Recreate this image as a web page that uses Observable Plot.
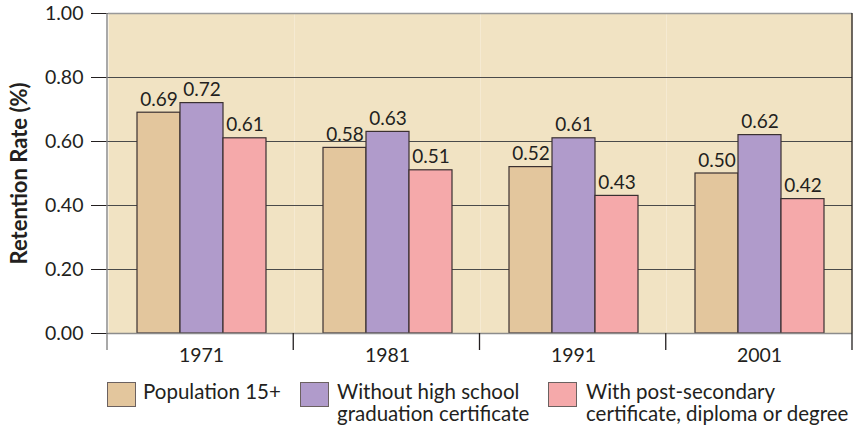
<!DOCTYPE html>
<html>
<head>
<meta charset="utf-8">
<script src="https://cdn.jsdelivr.net/npm/d3@7"></script>
<script src="https://cdn.jsdelivr.net/npm/@observablehq/plot@0.6"></script>
<style>
  body { margin: 0; background: #fff; font-family: Lato, "Open Sans", sans-serif; color: #231f20; }
  #wrap { position: relative; width: 856px; height: 433px; }
  #legend { position: absolute; left: 0; top: 0; width: 856px; height: 433px; pointer-events: none; }
  .sw { position: absolute; width: 29px; height: 25px; border: 1.3px solid #6b6160; box-sizing: border-box; }
  .lab { position: absolute; font-size: 20.5px; line-height: 22px; white-space: nowrap; color: #231f20; }
</style>
</head>
<body>
<div id="wrap"><div id="chart"></div><div id="legend"></div></div>
<script>
// Census years and the three population groups
const years = ["1971", "1981", "1991", "2001"];
const series = ["Population 15+", "Without high school graduation certificate", "With post-secondary certificate, diploma or degree"];
const legendLines = [["Population 15+"], ["Without high school", "graduation certificate"], ["With post-secondary", "certificate, diploma or degree"]];
const colors = ["#e3c69d", "#b09bcb", "#f5a9aa"];

// Retention rate per group, one value per census year
const population15 = [0.69, 0.58, 0.52, 0.50];
const withoutHighSchool = [0.72, 0.63, 0.61, 0.62];
const withPostSecondary = [0.61, 0.51, 0.43, 0.42];

const yTicks = [0, 0.2, 0.4, 0.6, 0.8, 1.0];
const yTitle = "Retention Rate (%)";

const rows = [];
[population15, withoutHighSchool, withPostSecondary].forEach((vals, s) => {
  vals.forEach((v, i) => rows.push({year: years[i], series: series[s], value: v}));
});

const plot = Plot.plot({
  width: 856,
  height: 365,
  marginTop: 13,
  marginBottom: 32,
  marginLeft: 107,
  marginRight: 4,
  style: {fontFamily: "Lato, 'Open Sans', sans-serif", fontSize: "19.5px", color: "#231f20", background: "transparent"},
  facet: {data: rows, x: "year"},
  fx: {domain: years, padding: 0, axis: "bottom", label: null, tickSize: 0, tickPadding: 15},
  x: {domain: series, paddingInner: 0, paddingOuter: 0.64, axis: null},
  y: {domain: [0, 1], ticks: yTicks, tickFormat: ".2f", tickSize: 17, tickPadding: 8,
      label: yTitle, labelAnchor: "center", labelOffset: 97},
  color: {domain: series, range: colors},
  marks: [
    Plot.frame({fill: "#f1e3c3", stroke: "none"}),
    Plot.ruleY([0.2, 0.4, 0.6, 0.8], {stroke: "#4a4a4a", strokeWidth: 1}),
    Plot.ruleY([1], {stroke: "#999", strokeWidth: 1.5}),
    Plot.barY(rows, {x: "series", y: "value", fill: "series", stroke: "#3a3031", strokeWidth: 1.2}),
    Plot.ruleY([0], {stroke: "#8c8c8c", strokeWidth: 1.5}),
    Plot.text(rows, {x: "series", y: "value", text: d => d.value.toFixed(2), lineAnchor: "bottom", dy: -7,
      fill: "#231f20", fontSize: 19})
  ]
});

// Group boundary ticks and the frame's side edges, placed with the fx scale
const fxs = plot.scale("fx");
const band = d3.scaleBand(fxs.domain, fxs.range)
  .paddingInner(fxs.paddingInner ?? 0).paddingOuter(fxs.paddingOuter ?? 0).align(fxs.align ?? 0.5);
const ys = plot.scale("y");
const yScale = d3.scaleLinear(ys.domain, ys.range);
const yTop = yScale(1), yBottom = yScale(0);
const svg = d3.select(plot.tagName.toLowerCase() === "svg" ? plot : plot.querySelector("svg"));
const edges = years.map(y => band(y)).concat([band(years[years.length - 1]) + band.bandwidth()]);
const g = svg.append("g").attr("aria-label", "group boundaries");
edges.forEach((x, i) => {
  const last = i === edges.length - 1;
  g.append("line")
    .attr("x1", x).attr("x2", x)
    .attr("y1", i === 0 || last ? yTop : yBottom)
    .attr("y2", yBottom + 17)
    .attr("stroke", i === 0 ? "#8c8c8c" : "#231f20")
    .attr("stroke-width", i === 0 ? 1.5 : 1.3);
});

// Bold axis title, without the direction arrow
svg.selectAll("text").filter(function() { return this.textContent.includes("Retention"); })
  .each(function() {
    const t = d3.select(this);
    t.selectAll("tspan").remove();
    t.text(yTitle);
  })
  .style("font-weight", "bold").style("font-size", "22px");

document.getElementById("chart").appendChild(plot);

// Legend below the chart
const legend = d3.select("#legend");
const legendX = [{sw: 107, tx: 143}, {sw: 300, tx: 337}, {sw: 548, tx: 586}];
legendLines.forEach((lines, i) => {
  legend.append("div").attr("class", "sw")
    .style("left", legendX[i].sw + "px").style("top", "382px")
    .style("background", colors[i]);
  legend.append("div").attr("class", "lab")
    .style("left", legendX[i].tx + "px").style("top", "380px")
    .html(lines.join("<br>"));
});
</script>
</body>
</html>
